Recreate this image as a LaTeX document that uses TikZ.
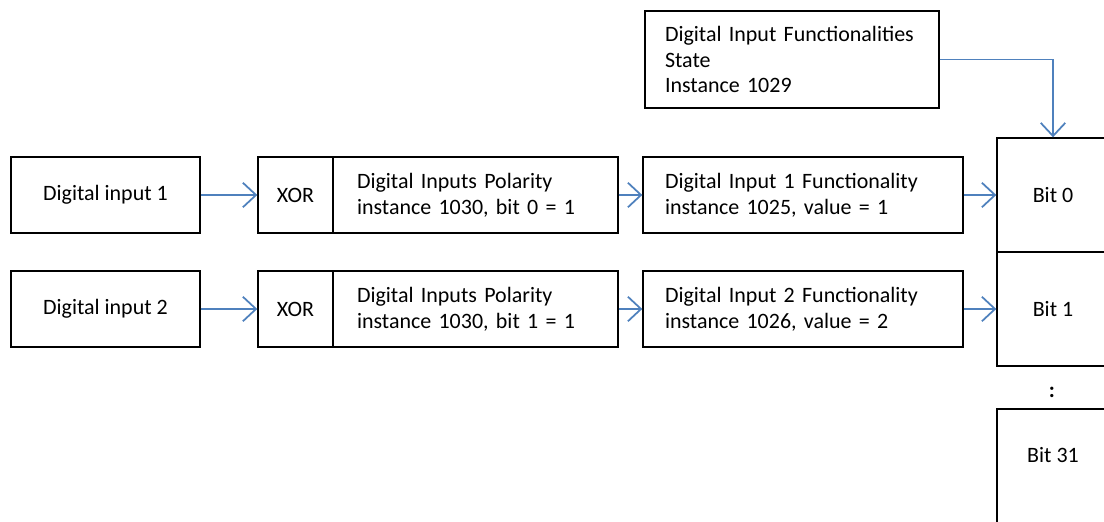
\documentclass[tikz,border=0pt]{standalone}
\usepackage{fontspec}
\setmainfont{Carlito}
\usetikzlibrary{arrows.meta}
\definecolor{linkblue}{RGB}{79,129,189}

\begin{document}
\begin{tikzpicture}[x=0.02cm,y=-0.02cm,
  font=\fontsize{12.5}{14.7}\selectfont,
  box/.style={draw=black,line width=0.8pt,rectangle,inner sep=0pt},
  link/.style={draw=linkblue,line width=1pt,-{Straight Barb[length=7.5pt,width=14pt]}}]
\useasboundingbox (0,0) rectangle (1104,521);

\node[box,minimum width=5.88cm,minimum height=1.94cm,text width=5.08cm,align=left] (state) at (792,59.5) {Digital Input Functionalities\\State\\Instance 1029};

\node[box,minimum width=3.78cm,minimum height=1.52cm] (in1) at (105.5,195) {Digital input 1};
\node[box,minimum width=1.5cm,minimum height=1.52cm] (xor1) at (295.5,195) {XOR};
\node[box,minimum width=5.7cm,minimum height=1.52cm,text width=4.74cm,align=left] (pol1) at (475.5,195) {Digital Inputs Polarity\\instance 1030, bit 0 = 1};
\node[box,minimum width=6.4cm,minimum height=1.52cm,text width=5.52cm,align=left] (fun1) at (803,195) {Digital Input 1 Functionality\\instance 1025, value = 1};

\node[box,minimum width=3.78cm,minimum height=1.52cm] (in2) at (105.5,309) {Digital input 2};
\node[box,minimum width=1.5cm,minimum height=1.52cm] (xor2) at (295.5,309) {XOR};
\node[box,minimum width=5.7cm,minimum height=1.52cm,text width=4.74cm,align=left] (pol2) at (475.5,309) {Digital Inputs Polarity\\instance 1030, bit 1 = 1};
\node[box,minimum width=6.4cm,minimum height=1.52cm,text width=5.52cm,align=left] (fun2) at (803,309) {Digital Input 2 Functionality\\instance 1026, value = 2};

\node[box,minimum width=2.24cm,minimum height=2.28cm] (b0) at (1053,195) {Bit 0};
\node[box,minimum width=2.24cm,minimum height=2.28cm] (b1) at (1053,309) {Bit 1};
\node (dots) at (1052,392) {\textbf{:}};
\node[box,minimum width=2.24cm,minimum height=2.28cm] (b31) at (1053,466) {};
\node (b31t) at (1053,455) {Bit 31};

\draw[link] (in1) -- (xor1);
\draw[link] (pol1) -- (fun1);
\draw[link] (fun1) -- (b0);
\draw[link] (in2) -- (xor2);
\draw[link] (pol2) -- (fun2);
\draw[link] (fun2) -- (b1);
\draw[link] (state.east) -| (b0.north);
\end{tikzpicture}
\end{document}
